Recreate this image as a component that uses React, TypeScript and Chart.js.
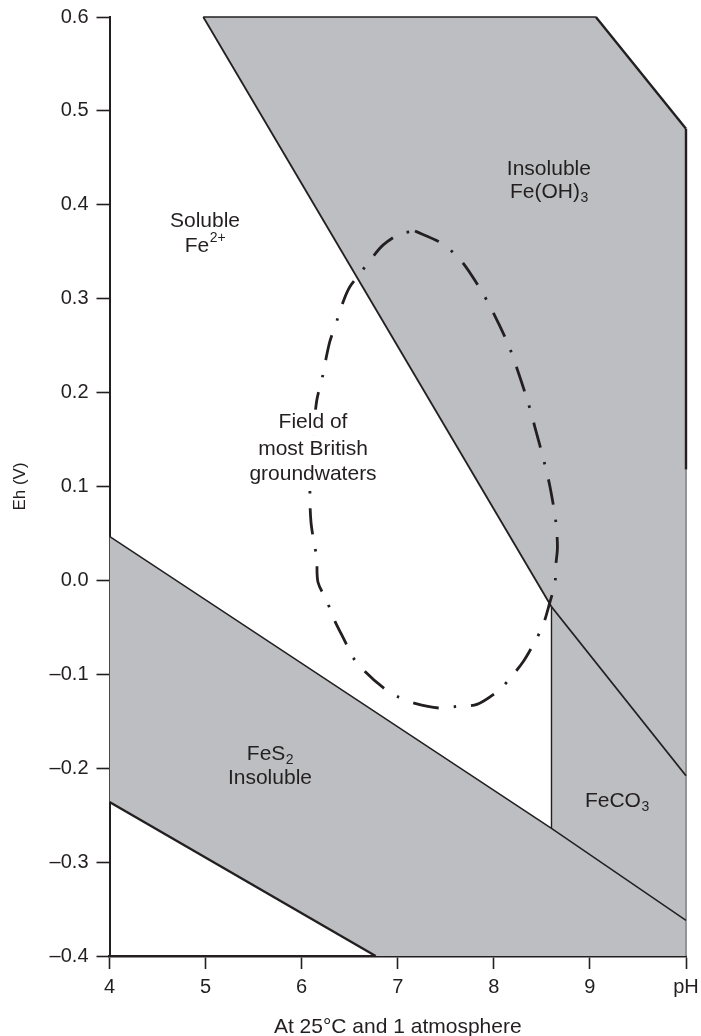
import React, { useEffect, useRef } from 'react';
import { Chart, registerables } from 'chart.js';

Chart.register(...registerables);

// ---- Axis ticks ----
const X_TICKS = [4, 5, 6, 7, 8, 9, 10];
const X_TICK_LABELS = ['4', '5', '6', '7', '8', '9', 'pH'];
const Y_TICKS = [-0.4, -0.3, -0.2, -0.1, 0.0, 0.1, 0.2, 0.3, 0.4, 0.5, 0.6];
const Y_TICK_LABELS = ['–0.4', '–0.3', '–0.2', '–0.1', '0.0', '0.1', '0.2', '0.3', '0.4', '0.5', '0.6'];

// ---- Stability regions (pH, Eh) ----
const FEOH3_REGION_PH = [4.976, 9.062, 10, 10, 8.6, 4.976];
const FEOH3_REGION_EH = [0.6, 0.6, 0.481, -0.208, -0.028, 0.6];
const FECO3_REGION_PH = [8.6, 10, 10, 8.6, 8.6];
const FECO3_REGION_EH = [-0.028, -0.208, -0.362, -0.264, -0.028];
const FES2_REGION_PH = [4, 8.6, 10, 10, 6.77, 4, 4];
const FES2_REGION_EH = [0.047, -0.264, -0.362, -0.4, -0.4, -0.236, 0.047];

// ---- Boundary lines ----
const FE2_FEOH3_PH = [4.976, 8.6];
const FE2_FEOH3_EH = [0.6, -0.028];
const FECO3_FEOH3_PH = [8.6, 10];
const FECO3_FEOH3_EH = [-0.028, -0.208];
const FE2_FECO3_PH = [8.6, 8.6];
const FE2_FECO3_EH = [-0.028, -0.264];
const FES2_UPPER_PH = [4, 8.6, 10];
const FES2_UPPER_EH = [0.047, -0.264, -0.362];
const FES2_LOWER_PH = [4, 6.77];
const FES2_LOWER_EH = [-0.236, -0.4];
const TOP_EDGE_PH = [4.976, 9.062];
const TOP_EDGE_EH = [0.6, 0.6];
const FEOH3_DIAG_PH = [9.062, 10];
const FEOH3_DIAG_EH = [0.6, 0.481];
const RIGHT_DARK_PH = [10, 10];
const RIGHT_DARK_EH = [0.481, 0.118];
const RIGHT_LIGHT_PH = [10, 10];
const RIGHT_LIGHT_EH = [0.118, -0.4];

// ---- Field of most British groundwaters (closed dash-dot curve) ----
const FIELD_PH = [7.179, 7.439, 7.647, 7.855, 7.99, 8.147, 8.24, 8.355, 8.428, 8.522, 8.584, 8.646, 8.662, 8.646, 8.636, 8.584, 8.511, 8.428, 8.303, 8.178, 8.064, 7.824, 7.626, 7.439, 7.179, 7.002, 6.846, 6.659, 6.534, 6.451, 6.326, 6.263, 6.17, 6.156, 6.125, 6.097, 6.086, 6.092, 6.118, 6.156, 6.219, 6.253, 6.295, 6.378, 6.44, 6.503, 6.586, 6.721, 6.846, 7.023, 7.179];
const FIELD_EH = [0.372, 0.36, 0.342, 0.311, 0.286, 0.252, 0.226, 0.19, 0.163, 0.127, 0.1, 0.062, 0.035, 0.017, -0.003, -0.023, -0.048, -0.065, -0.087, -0.103, -0.116, -0.132, -0.134, -0.136, -0.131, -0.124, -0.114, -0.097, -0.082, -0.065, -0.039, -0.022, -0.002, 0.024, 0.042, 0.062, 0.087, 0.119, 0.15, 0.191, 0.218, 0.236, 0.255, 0.28, 0.299, 0.313, 0.324, 0.342, 0.357, 0.369, 0.372];

// ---- Region labels ----
const LABELS = [
  { text: 'Soluble', pH: 4.994, eh: 0.382 },
  { text: 'Fe', sup: '2+', pH: 4.994, eh: 0.356 },
  { text: 'Insoluble', pH: 8.573, eh: 0.438 },
  { text: 'Fe(OH)', sub: '3', pH: 8.573, eh: 0.413 },
  { text: 'Field of', pH: 6.118, eh: 0.168, bg: true },
  { text: 'most British', pH: 6.118, eh: 0.14, bg: true },
  { text: 'groundwaters', pH: 6.118, eh: 0.113, bg: true },
  { text: 'FeS', sub: '2', pH: 5.67, eh: -0.185 },
  { text: 'Insoluble', pH: 5.67, eh: -0.211 },
  { text: 'FeCO', sub: '3', pH: 9.28, eh: -0.235 },
];

const FONT = 'Liberation Sans, Arial, Helvetica, sans-serif';
const INK = '#231f20';
const GREY = '#bcbec1';

const pts = (xs: number[], ys: number[]) => xs.map((x, i) => ({ x, y: ys[i] }));

const lineDs = (xs: number[], ys: number[], width: number, color = INK) => ({
  data: pts(xs, ys),
  showLine: true,
  borderColor: color,
  borderWidth: width,
  pointRadius: 0,
  fill: false,
  tension: 0,
  clip: false as any,
  order: 2,
});

const regionDs = (xs: number[], ys: number[]) => ({
  data: pts(xs, ys),
  showLine: true,
  borderWidth: 0,
  borderColor: 'rgba(0,0,0,0)',
  backgroundColor: GREY,
  pointRadius: 0,
  fill: 'shape',
  tension: 0,
  order: 3,
});

const labelPlugin = {
  id: 'regionLabels',
  afterDatasetsDraw(chart: any) {
    const { ctx, scales } = chart;
    const xs = scales.x;
    const ys = scales.y;
    ctx.save();
    ctx.textBaseline = 'middle';
    ctx.textAlign = 'left';
    for (const l of LABELS as any[]) {
      const cx = xs.getPixelForValue(l.pH);
      const cy = ys.getPixelForValue(l.eh);
      ctx.font = `21px ${FONT}`;
      const mw = ctx.measureText(l.text).width;
      const small = l.sub || l.sup || '';
      ctx.font = `14px ${FONT}`;
      const sw = small ? ctx.measureText(small).width : 0;
      const total = mw + sw;
      const x0 = cx - total / 2;
      if (l.bg) {
        ctx.fillStyle = '#ffffff';
        ctx.fillRect(x0 - 4, cy - 13, total + 8, 26);
      }
      ctx.fillStyle = INK;
      ctx.font = `21px ${FONT}`;
      ctx.fillText(l.text, x0, cy);
      if (small) {
        ctx.font = `14px ${FONT}`;
        ctx.fillText(small, x0 + mw + 0.5, l.sub ? cy + 6 : cy - 8);
      }
    }
    ctx.restore();
  },
};

export default function App() {
  const canvasRef = useRef<HTMLCanvasElement | null>(null);

  useEffect(() => {
    const canvas = canvasRef.current;
    if (!canvas) return;
    const chart = new Chart(canvas, {
      type: 'scatter',
      data: {
        datasets: [
          {
            data: pts(FIELD_PH, FIELD_EH),
            showLine: true,
            borderColor: INK,
            borderWidth: 2.8,
            borderDash: [26, 15, 2.5, 15],
            borderCapStyle: 'butt',
            pointRadius: 0,
            fill: false,
            tension: 0.3,
            order: 1,
          } as any,
          lineDs(FE2_FEOH3_PH, FE2_FEOH3_EH, 1.8),
          lineDs(FECO3_FEOH3_PH, FECO3_FEOH3_EH, 1.8),
          lineDs(FE2_FECO3_PH, FE2_FECO3_EH, 1.4),
          lineDs(FES2_UPPER_PH, FES2_UPPER_EH, 1.5),
          lineDs(FES2_LOWER_PH, FES2_LOWER_EH, 2.4),
          lineDs(TOP_EDGE_PH, TOP_EDGE_EH, 1.5),
          lineDs(FEOH3_DIAG_PH, FEOH3_DIAG_EH, 2.4),
          lineDs(RIGHT_DARK_PH, RIGHT_DARK_EH, 2.4),
          lineDs(RIGHT_LIGHT_PH, RIGHT_LIGHT_EH, 1, '#8a8a8a'),
          regionDs(FEOH3_REGION_PH, FEOH3_REGION_EH) as any,
          regionDs(FECO3_REGION_PH, FECO3_REGION_EH) as any,
          regionDs(FES2_REGION_PH, FES2_REGION_EH) as any,
        ],
      },
      options: {
        responsive: false,
        animation: false,
        events: [],
        layout: { padding: { top: 17, right: 15, left: 0, bottom: 0 } },
        plugins: {
          legend: { display: false },
          tooltip: { enabled: false },
        },
        scales: {
          x: {
            type: 'linear',
            min: 4,
            max: 10,
            z: 1,
            afterBuildTicks: (s: any) => {
              s.ticks = X_TICKS.map((v) => ({ value: v }));
            },
            afterFit: (s: any) => {
              s.height = 80;
              s.paddingLeft = 0;
              s.paddingRight = 0;
            },
            ticks: {
              callback: (_v: any, i: number) => X_TICK_LABELS[i],
              font: { family: FONT, size: 20 },
              color: INK,
              padding: 6,
              maxRotation: 0,
              autoSkip: false,
            },
            grid: {
              drawOnChartArea: false,
              drawTicks: true,
              tickLength: 13,
              tickColor: INK,
              tickWidth: 1.6,
              color: INK,
            },
            border: { display: true, color: INK, width: 2.6 },
            title: {
              display: true,
              text: 'At 25°C and 1 atmosphere',
              font: { family: FONT, size: 21, lineHeight: 0.85 },
              color: INK,
              padding: { top: 0, bottom: 0 },
            },
          },
          y: {
            type: 'linear',
            min: -0.4,
            max: 0.6,
            z: 1,
            afterBuildTicks: (s: any) => {
              s.ticks = Y_TICKS.map((v) => ({ value: v }));
            },
            afterFit: (s: any) => {
              s.width = 109.5;
              s.paddingTop = 0;
              s.paddingBottom = 0;
            },
            ticks: {
              callback: (_v: any, i: number) => Y_TICK_LABELS[i],
              font: { family: FONT, size: 20 },
              color: INK,
              padding: 8,
              autoSkip: false,
            },
            grid: {
              drawOnChartArea: false,
              drawTicks: true,
              tickLength: 13,
              tickColor: INK,
              tickWidth: 1.6,
              color: INK,
            },
            border: { display: true, color: INK, width: 2 },
            title: {
              display: true,
              text: 'Eh (V)',
              font: { family: FONT, size: 17 },
              color: INK,
              padding: { top: 10, bottom: 0 },
            },
          },
        },
      } as any,
      plugins: [labelPlugin],
    });
    return () => chart.destroy();
  }, []);

  return (
    <div style={{ position: 'fixed', left: 0, top: 0, width: 701, height: 1036, background: '#fff' }}>
      <canvas ref={canvasRef} width={701} height={1036} style={{ display: 'block', width: 701, height: 1036 }} />
    </div>
  );
}
